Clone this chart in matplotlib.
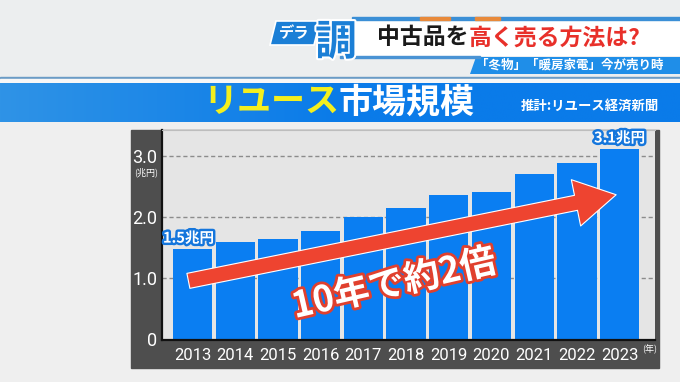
import numpy as np
import matplotlib
matplotlib.use("Agg")
import matplotlib.pyplot as plt
from matplotlib.patches import Rectangle, Polygon, FancyArrowPatch
from matplotlib.colors import LinearSegmentedColormap
import matplotlib.patheffects as pe

plt.rcParams['font.family'] = ['Noto Sans CJK JP', 'DejaVu Sans']

# ---- data ----
years = ['2013', '2014', '2015', '2016', '2017', '2018', '2019', '2020', '2021', '2022', '2023']
market_size = [1.48, 1.59, 1.65, 1.78, 2.00, 2.16, 2.36, 2.42, 2.71, 2.89, 3.12]
y_ticks = [0, 1.0, 2.0, 3.0]
y_tick_labels = ['0', '1.0', '2.0', '3.0']
title_a = 'リユース'
title_b = '市場規模'
source = '推計:リユース経済新聞'
header_a = '中古品を'
header_b = '高く売る方法は?'
subheader = '「冬物」「暖房家電」今が売り時'
arrow_text = '10年で約2倍'
unit_y = '(兆円)'
unit_x = '(年)'

NUM_FONT = ['Liberation Sans Narrow', 'Roboto', 'DejaVu Sans']
BLUE = '#0a7ef2'

fig = plt.figure(figsize=(6.8, 3.82), dpi=100)
fig.patch.set_facecolor('#efefef')

# background / decoration layer in pixel coordinates
bg = fig.add_axes([0, 0, 1, 1])
bg.axis('off')

bg.add_patch(Rectangle((0, 0), 680, 78, color='#eceeef', zorder=0))
bg.add_patch(Rectangle((0, 77), 680, 2.2, color='#6b9cc6', zorder=1))
bg.add_patch(Rectangle((0, 79.2), 680, 4, color='#f7f7f7', zorder=1))
grad = np.linspace(0, 1, 256).reshape(1, -1)
cm = LinearSegmentedColormap.from_list('band', ['#2f93e6', '#0a7be9', '#0a7be9'])
bg.imshow(grad, cmap=cm, extent=[0, 680, 122, 83], aspect='auto', zorder=1)
bg.set_xlim(0, 680)
bg.set_ylim(382, 0)

# header banner
bg.add_patch(Polygon([[352, 18], [680, 18], [680, 56], [345, 56], [342, 30]],
                     closed=True, facecolor='white', edgecolor='none', zorder=2))
bg.add_patch(Rectangle((352, 17), 328, 2.5, color='#3b8fd6', zorder=3))
bg.add_patch(Rectangle((420, 17), 30, 2.5, color='#e8893a', zorder=3))
bg.add_patch(Rectangle((475, 17), 25, 2.5, color='#e8893a', zorder=3))
bg.add_patch(Polygon([[476, 57], [680, 57], [680, 74], [470, 74]],
                     closed=True, facecolor='#1f8ee8', edgecolor='none', zorder=2))
bg.add_patch(Rectangle((340, 56), 140, 1.5, color='#4a93d4', zorder=2))

# logo
bg.add_patch(Polygon([[276, 21], [320, 21], [314, 45], [270, 45]], closed=True,
                     facecolor='#1b7fd6', edgecolor='white', lw=1.2, zorder=3))
bg.text(294, 33, 'デラ', color='white', fontsize=11, fontweight='bold',
        ha='center', va='center', zorder=4)
bg.text(336, 43, '調', color='#1b7fd6', fontsize=30, fontweight='bold',
        ha='center', va='center', zorder=4,
        path_effects=[pe.withStroke(linewidth=3, foreground='white')])

th = bg.text(377, 38, header_a, color='#1a1a1a', fontsize=16.5, fontweight='bold',
             ha='left', va='center', zorder=4)
bg.annotate(header_b, xy=(1, 0.5), xycoords=th, color='#e8302a', fontsize=16.5,
            fontweight='bold', ha='left', va='center', zorder=4)
bg.text(570, 65.5, subheader, color='white', fontsize=9, fontweight='bold',
        ha='center', va='center', zorder=4)

t1 = bg.text(203, 102, title_a, color='#f4ef1e', fontsize=24.5, fontweight='bold',
             ha='left', va='center', zorder=4)
bg.annotate(title_b, xy=(1, 0.5), xycoords=t1, color='white', fontsize=24.5,
            fontweight='bold', ha='left', va='center', zorder=4)
bg.text(590, 106, source, color='white', fontsize=9.6, fontweight='bold',
        ha='center', va='center', zorder=4)

# chart dark panel
bg.add_patch(Rectangle((131, 130), 528, 238, color='#4e4e4e', zorder=2))
bg.text(146, 172.5, unit_y, color='white', fontsize=6.5, ha='center', va='center', zorder=4)
bg.text(650, 349, unit_x, color='white', fontsize=6.5, ha='center', va='center', zorder=4)

# ---- main chart ----
L, R, T, B = 161.5, 655, 130, 339.5
ax = fig.add_axes([L / 680, (382 - B) / 382, (R - L) / 680, (B - T) / 382])
ax.set_facecolor('#e5e5e5')
x = np.arange(len(years))
ax.bar(x, market_size, width=0.92, color=BLUE, zorder=2)
ax.set_xlim(-0.73, 10.83)
ax.set_ylim(0, 3.43)
ax.set_axisbelow(True)
for yv in y_ticks[1:]:
    ax.axhline(yv, color='#8c8c8c', lw=1.0, ls=(0, (3, 2)), zorder=1)

ax.set_yticks(y_ticks)
ax.set_yticklabels(y_tick_labels, family=NUM_FONT, fontsize=13, color='white')
ax.set_xticks(x)
ax.set_xticklabels(years, family=NUM_FONT, fontsize=12, color='white')
ax.tick_params(axis='y', length=0, pad=3)
ax.tick_params(axis='x', length=0, pad=6)
for s in ['left', 'bottom']:
    ax.spines[s].set_color('#111111')
    ax.spines[s].set_linewidth(1.6)
ax.spines['top'].set_color('#bdbdbd')
ax.spines['top'].set_linewidth(0.8)
ax.spines['right'].set_visible(False)

# value labels on first and last bars
for i in (0, len(years) - 1):
    ax.annotate(f'{market_size[i]:.1f}兆円', xy=(x[i], market_size[i]),
                xytext=(-3 if i == 0 else 0, 2.5), textcoords='offset points',
                ha='center', va='bottom', color='white', fontsize=10.5,
                fontweight='bold', zorder=6, annotation_clip=False,
                path_effects=[pe.withStroke(linewidth=3.5, foreground='#1576dc')])

# red arrow
arr = FancyArrowPatch((x[0] - 0.1, 0.96), (x[-1] - 0.08, 2.37),
                      arrowstyle='simple,head_length=2.95,head_width=3.4,tail_width=1.1',
                      mutation_scale=10, facecolor='#ee4430', edgecolor='white',
                      lw=0.8, zorder=5, shrinkA=0, shrinkB=0, clip_on=False)
ax.add_patch(arr)
ax.text(4.72, 0.9, arrow_text, rotation=13, rotation_mode='anchor',
        ha='center', va='center', color='white', fontsize=26, fontweight='bold',
        zorder=7, path_effects=[pe.withStroke(linewidth=4, foreground='#e0402e')])

fig.savefig('out.png', dpi=100, facecolor=fig.get_facecolor())
